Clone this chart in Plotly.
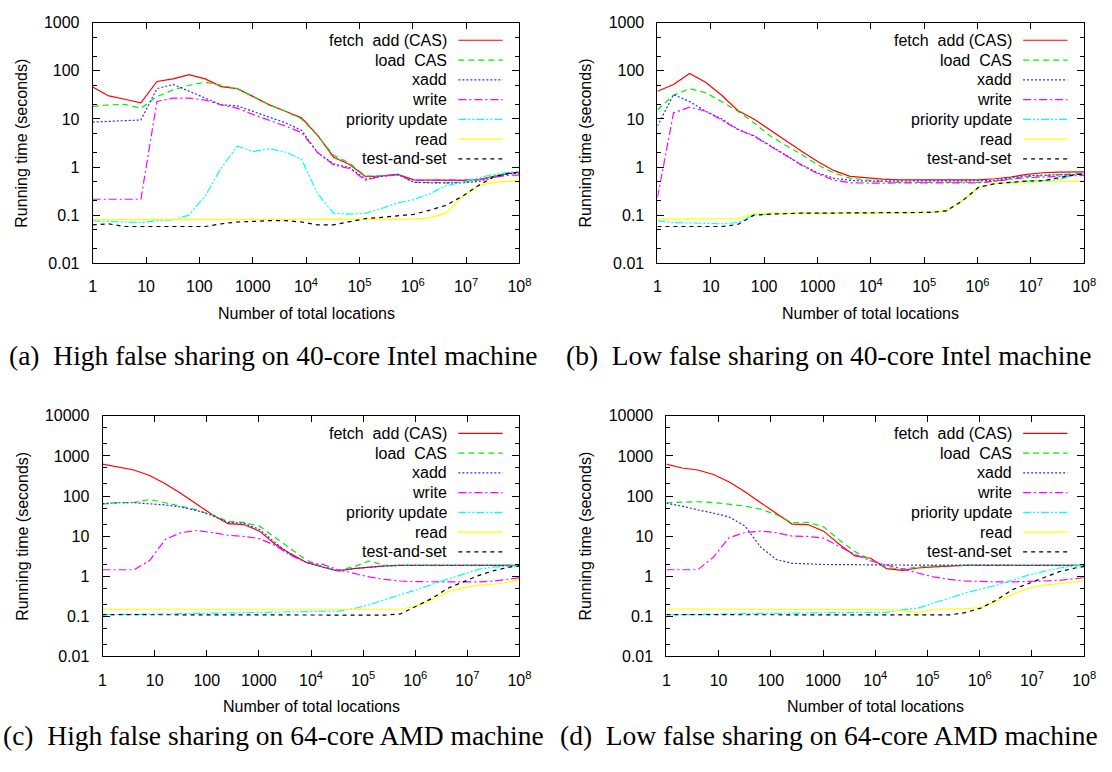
import plotly.graph_objects as go

# ---------------- data ----------------
X_LOCATIONS = [1, 2, 4, 8, 16, 32, 64, 128, 256, 512, 1024, 2048, 4096, 8192,
               16384, 32768, 65536, 131072, 262144, 524288, 1048576, 2097152,
               4194304, 8388608, 16777216, 33554432, 67108864, 134217728]

SERIES_NAMES = ["fetch  add (CAS)", "load  CAS", "xadd", "write",
                "priority update", "read", "test-and-set"]

# (a) High false sharing, 40-core Intel
A_FETCH_ADD = [46, 30, 25.6, 21.6, 60, 68, 83, 68, 47, 42.5, 29, 19.6, 14.4, 10.5,
               4.6, 1.6, 1.13, 0.63, 0.65, 0.70, 0.54, 0.54, 0.54, 0.53, 0.55, 0.65, 0.75, 0.8]
A_LOAD_CAS = [18, 19.6, 20, 16.7, 29, 40, 50, 58, 50, 42.5, 29, 19.6, 14.4, 10,
              4.5, 1.75, 1.2, 0.65, 0.66, 0.7, 0.48, 0.47, 0.47, 0.48, 0.54, 0.65, 0.75, 0.8]
A_XADD = [8.6, 8.9, 9.3, 9.5, 42.5, 52, 37.6, 27, 19.6, 18.7, 14.4, 10.9, 8.3, 5.8,
          2.0, 1.16, 0.97, 0.56, 0.64, 0.7, 0.48, 0.47, 0.47, 0.47, 0.5, 0.6, 0.73, 0.75]
A_WRITE = [0.214, 0.214, 0.214, 0.214, 23, 27, 27, 24.6, 19.6, 16.7, 12.3, 9.4, 7.1, 5.2,
           2.0, 1.1, 0.93, 0.53, 0.65, 0.68, 0.53, 0.53, 0.53, 0.53, 0.54, 0.62, 0.68, 0.68]
A_PRIORITY = [0.076, 0.074, 0.073, 0.07, 0.077, 0.08, 0.1, 0.25, 0.95, 2.7, 2.1, 2.4, 2.05, 1.45,
              0.28, 0.11, 0.105, 0.11, 0.138, 0.18, 0.21, 0.28, 0.41, 0.48, 0.6, 0.7, 0.78, 0.8]
A_READ = [0.081, 0.081, 0.081, 0.081, 0.081, 0.081, 0.081, 0.082, 0.083, 0.082, 0.081, 0.081, 0.081, 0.081,
          0.081, 0.081, 0.081, 0.081, 0.081, 0.082, 0.084, 0.088, 0.11, 0.24, 0.41, 0.48, 0.51, 0.52]
A_TAS = [0.063, 0.066, 0.058, 0.058, 0.058, 0.058, 0.058, 0.058, 0.066, 0.072, 0.074, 0.077, 0.077, 0.072,
         0.063, 0.063, 0.073, 0.085, 0.09, 0.096, 0.104, 0.127, 0.16, 0.245, 0.41, 0.63, 0.75, 0.8]

# (b) Low false sharing, 40-core Intel
B_FETCH_ADD = [37.6, 52, 88, 58, 31, 15, 10, 5.9, 3.55, 2.1, 1.29, 0.84, 0.64, 0.59,
               0.56, 0.54, 0.54, 0.54, 0.54, 0.54, 0.54, 0.57, 0.62, 0.7, 0.76, 0.78, 0.79, 0.8]
B_LOAD_CAS = [15.5, 31, 42.5, 35, 23, 14.5, 8.3, 4.5, 2.8, 1.8, 1.1, 0.75, 0.58, 0.53,
              0.5, 0.48, 0.48, 0.48, 0.48, 0.48, 0.48, 0.51, 0.57, 0.63, 0.66, 0.68, 0.7, 0.75]
B_XADD = [7.1, 32, 23, 14.4, 10, 6.1, 4.5, 2.8, 1.8, 1.1, 0.75, 0.58, 0.53, 0.51,
          0.51, 0.51, 0.51, 0.51, 0.51, 0.51, 0.51, 0.52, 0.6, 0.66, 0.68, 0.68, 0.7, 0.73]
B_WRITE = [0.23, 13.3, 17.6, 14.4, 9.5, 6.0, 4.4, 2.75, 1.75, 1.08, 0.72, 0.53, 0.47, 0.46,
           0.46, 0.47, 0.47, 0.47, 0.47, 0.47, 0.47, 0.5, 0.56, 0.6, 0.62, 0.66, 0.68, 0.68]
B_PRIORITY = [0.076, 0.07, 0.069, 0.068, 0.066, 0.07, 0.1, 0.105, 0.108, 0.11, 0.11, 0.11, 0.11, 0.11,
              0.11, 0.11, 0.112, 0.114, 0.123, 0.2, 0.38, 0.45, 0.48, 0.51, 0.52, 0.55, 0.69, 0.75]
B_READ = [0.083, 0.083, 0.084, 0.083, 0.083, 0.085, 0.105, 0.11, 0.11, 0.11, 0.11, 0.112, 0.112, 0.112,
          0.112, 0.112, 0.113, 0.115, 0.123, 0.2, 0.38, 0.45, 0.46, 0.47, 0.5, 0.5, 0.51, 0.51]
B_TAS = [0.058, 0.058, 0.058, 0.058, 0.058, 0.064, 0.1, 0.105, 0.108, 0.11, 0.11, 0.11, 0.11, 0.11,
         0.11, 0.11, 0.112, 0.114, 0.123, 0.2, 0.38, 0.45, 0.48, 0.51, 0.52, 0.6, 0.69, 0.75]

# (c) High false sharing, 64-core AMD
C_FETCH_ADD = [625, 520, 446, 324, 203, 116, 63, 34, 20.4, 19.4, 13.3, 6.3, 3.6, 2.2,
               1.7, 1.35, 1.55, 1.7, 1.8, 1.86, 1.86, 1.86, 1.86, 1.86, 1.86, 1.86, 1.86, 1.86]
C_LOAD_CAS = [63, 68, 69, 82, 68, 56, 45, 34, 23, 22, 17.7, 9.2, 4.8, 2.5,
              1.75, 1.4, 1.7, 2.4, 1.86, 1.86, 1.86, 1.86, 1.86, 1.86, 1.86, 1.86, 1.86, 1.86]
C_XADD = [65, 68, 68, 65, 60, 53, 43.6, 32.6, 22, 21, 14.7, 6.9, 3.4, 2.2,
          1.7, 1.35, 1.55, 1.7, 1.8, 1.86, 1.86, 1.86, 1.86, 1.86, 1.86, 1.86, 1.86, 1.86]
C_WRITE = [1.45, 1.45, 1.45, 2.45, 8.3, 12.2, 13.8, 12.2, 10.5, 9.8, 8.7, 5.8, 3.3, 2.2,
           2.0, 1.46, 1.16, 0.96, 0.83, 0.76, 0.73, 0.72, 0.71, 0.71, 0.72, 0.76, 0.85, 0.96]
C_PRIORITY = [0.11, 0.11, 0.11, 0.112, 0.114, 0.116, 0.118, 0.12, 0.122, 0.124, 0.126, 0.128, 0.13, 0.13,
              0.13, 0.135, 0.155, 0.195, 0.26, 0.34, 0.46, 0.63, 0.85, 1.14, 1.5, 1.7, 1.8, 1.86]
C_READ = [0.15, 0.15, 0.15, 0.149, 0.149, 0.148, 0.148, 0.148, 0.148, 0.148, 0.147, 0.147, 0.147, 0.147,
          0.147, 0.147, 0.147, 0.147, 0.147, 0.15, 0.18, 0.26, 0.41, 0.52, 0.6, 0.64, 0.73, 0.85]
C_TAS = [0.11, 0.11, 0.11, 0.108, 0.108, 0.107, 0.107, 0.107, 0.106, 0.106, 0.106, 0.106, 0.106, 0.106,
         0.106, 0.106, 0.106, 0.107, 0.107, 0.115, 0.18, 0.28, 0.5, 0.73, 1.05, 1.4, 1.7, 1.86]

# (d) Low false sharing, 64-core AMD
D_FETCH_ADD = [625, 500, 446, 343, 223, 127, 68, 36, 20, 19.4, 13.3, 6.3, 3.2, 2.8,
               1.55, 1.4, 1.6, 1.7, 1.8, 1.86, 1.86, 1.86, 1.86, 1.86, 1.86, 1.86, 1.86, 1.86]
D_LOAD_CAS = [68, 71, 72, 69, 63, 56, 47, 34, 21.5, 22, 17, 8, 4.1, 2.6,
              1.65, 1.5, 1.7, 1.8, 1.86, 1.86, 1.86, 1.86, 1.86, 1.86, 1.86, 1.86, 1.86, 1.86]
D_XADD = [66, 56, 45, 37.6, 30, 17.8, 5.3, 2.6, 2.1, 2.0, 1.96, 1.95, 1.92, 1.9,
          1.9, 1.9, 1.9, 1.9, 1.9, 1.9, 1.9, 1.9, 1.9, 1.9, 1.9, 1.9, 1.9, 1.86]
D_WRITE = [1.45, 1.45, 1.45, 3.0, 9.2, 12.2, 13.3, 12.2, 10, 9.8, 8.9, 5.5, 3.5, 2.4,
           1.9, 1.46, 1.2, 0.96, 0.83, 0.76, 0.73, 0.72, 0.72, 0.73, 0.76, 0.79, 0.87, 0.96]
D_PRIORITY = [0.11, 0.11, 0.11, 0.112, 0.114, 0.116, 0.118, 0.12, 0.12, 0.122, 0.123, 0.124, 0.125, 0.126,
              0.126, 0.147, 0.16, 0.215, 0.285, 0.38, 0.48, 0.6, 0.79, 1.06, 1.32, 1.6, 1.8, 1.86]
D_READ = [0.152, 0.152, 0.152, 0.151, 0.15, 0.15, 0.149, 0.148, 0.148, 0.148, 0.147, 0.147, 0.147, 0.147,
          0.147, 0.14, 0.123, 0.15, 0.15, 0.155, 0.165, 0.235, 0.35, 0.5, 0.6, 0.65, 0.73, 0.8]
D_TAS = [0.11, 0.11, 0.11, 0.108, 0.108, 0.108, 0.108, 0.108, 0.108, 0.108, 0.108, 0.108, 0.108, 0.108,
         0.108, 0.108, 0.108, 0.108, 0.108, 0.123, 0.16, 0.255, 0.46, 0.65, 0.91, 1.3, 1.6, 1.86]

X_TICK_VALUES = [1, 10, 100, 1000, 1e4, 1e5, 1e6, 1e7, 1e8]
X_TICK_LABELS = ["1", "10", "100", "1000", "10<sup>4</sup>", "10<sup>5</sup>",
                 "10<sup>6</sup>", "10<sup>7</sup>", "10<sup>8</sup>"]
Y_TICK_VALUES = [0.01, 0.1, 1, 10, 100, 1000, 10000]
Y_TICK_LABELS = ["0.01", "0.1", "1", "10", "100", "1000", "10000"]
Y_MINOR_VALUES = [0.02, 0.05, 0.2, 0.5, 2, 5, 20, 50, 200, 500, 2000, 5000]

CAPTIONS = ["(a)  High false sharing on 40-core Intel machine",
            "(b)  Low false sharing on 40-core Intel machine",
            "(c)  High false sharing on 64-core AMD machine",
            "(d)  Low false sharing on 64-core AMD machine"]
X_TITLE = "Number of total locations"
Y_TITLE = "Running time (seconds)"

PANELS = [
    [A_FETCH_ADD, A_LOAD_CAS, A_XADD, A_WRITE, A_PRIORITY, A_READ, A_TAS],
    [B_FETCH_ADD, B_LOAD_CAS, B_XADD, B_WRITE, B_PRIORITY, B_READ, B_TAS],
    [C_FETCH_ADD, C_LOAD_CAS, C_XADD, C_WRITE, C_PRIORITY, C_READ, C_TAS],
    [D_FETCH_ADD, D_LOAD_CAS, D_XADD, D_WRITE, D_PRIORITY, D_READ, D_TAS],
]

# ---------------- styles / layout ----------------
W, H = 1112, 772
COLORS = ["#ff0000", "#00ee00", "#2a2aff", "#ff00ff", "#00ffff", "#ffff00", "#000000"]
DASHES = ["solid", "6px,4px", "2px,2px", "8px,3px,2px,3px",
          "8px,2px,2px,2px,2px,2px", "solid", "4px,4px"]
LINE_W = 1.2

# panel boxes in pixels: (left, right, top, bottom)
BOXES = [(90, 523, 15, 261), (663, 1096, 15, 261),
         (100, 523, 417, 663), (672, 1096, 417, 663)]
Y_RANGES = [[-2, 3], [-2, 3], [-2, 4], [-2, 4]]
YTITLE_X = [18, 590, 18, 590]
CAPTION_POS = [(273, 355), (837, 355), (273, 744), (837, 744)]

TICK_SIZE = 16
TITLE_SIZE = 16
LEGEND_SIZE = 16
CAPTION_SIZE = 27.5


def px(x):
    return x / W


def py(y):
    return 1 - y / H


fig = go.Figure()
annotations = []
shapes = []
SANS = "Liberation Sans, Arial, sans-serif"
SERIF = "Liberation Serif, Times New Roman, serif"

for i, (series_list, box, yr, cap) in enumerate(zip(PANELS, BOXES, Y_RANGES, CAPTIONS)):
    n = i + 1
    xa = "xaxis" if n == 1 else f"xaxis{n}"
    ya = "yaxis" if n == 1 else f"yaxis{n}"
    xr = "x" if n == 1 else f"x{n}"
    yrf = "y" if n == 1 else f"y{n}"
    l, r, t, b = box
    for name, vals, col, dash in zip(SERIES_NAMES, series_list, COLORS, DASHES):
        fig.add_trace(go.Scatter(x=X_LOCATIONS, y=vals, mode="lines", name=name,
                                 xaxis=xr, yaxis=yrf, showlegend=False,
                                 line=dict(color=col, width=LINE_W, dash=dash)))
    fig.update_layout(**{
        xa: dict(type="log", range=[0, 8], domain=[px(l), px(r)], anchor=yrf,
                 tickvals=X_TICK_VALUES, ticktext=X_TICK_LABELS,
                 ticks="inside", ticklen=6, tickcolor="black", tickwidth=1,
                 ticklabelstandoff=9,
                 showline=True, linecolor="black", linewidth=1, mirror="allticks",
                 showgrid=False, zeroline=False,
                 tickfont=dict(family=SANS, size=TICK_SIZE, color="black")),
        ya: dict(type="log", range=yr, domain=[py(b), py(t)], anchor=xr,
                 tickvals=Y_TICK_VALUES, ticktext=Y_TICK_LABELS,
                 ticks="inside", ticklen=7, tickcolor="black", tickwidth=1,
                 ticklabelstandoff=9,
                 showline=True, linecolor="black", linewidth=1, mirror="allticks",
                 showgrid=False, zeroline=False,
                 minor=dict(tickvals=Y_MINOR_VALUES, ticks="inside", ticklen=4,
                            tickcolor="black", showgrid=False),
                 tickfont=dict(family=SANS, size=TICK_SIZE, color="black")),
    })
    # axis titles
    annotations.append(dict(text=Y_TITLE, x=px(YTITLE_X[i]), y=py((t + b) / 2),
                            xref="paper", yref="paper", textangle=-90,
                            showarrow=False, xanchor="center", yanchor="middle",
                            font=dict(family=SANS, size=TITLE_SIZE, color="black")))
    annotations.append(dict(text=X_TITLE, x=px((l + r) / 2), y=py(b + 51),
                            xref="paper", yref="paper", showarrow=False,
                            xanchor="center", yanchor="middle",
                            font=dict(family=SANS, size=TITLE_SIZE, color="black")))
    # caption
    cx, cy = CAPTION_POS[i]
    annotations.append(dict(text=cap, x=px(cx), y=py(cy),
                            xref="paper", yref="paper", showarrow=False,
                            xanchor="center", yanchor="middle",
                            font=dict(family=SERIF, size=CAPTION_SIZE, color="black")))
    # legend (gnuplot style: right-aligned text, sample line on right)
    text_right = r - 71
    s0, s1 = r - 62, r - 17
    for j, (name, col, dash) in enumerate(zip(SERIES_NAMES, COLORS, DASHES)):
        yy = t + 18 + j * 20.2
        annotations.append(dict(text=name, x=px(text_right), y=py(yy),
                                xref="paper", yref="paper", showarrow=False,
                                xanchor="right", yanchor="middle",
                                font=dict(family=SANS, size=LEGEND_SIZE, color="black")))
        shapes.append(dict(type="line", xref="paper", yref="paper",
                           x0=px(s0), x1=px(s1), y0=py(yy), y1=py(yy),
                           line=dict(color=col, width=LINE_W, dash=dash)))

fig.update_layout(width=W, height=H, autosize=False,
                  margin=dict(l=0, r=0, t=0, b=0),
                  plot_bgcolor="white", paper_bgcolor="white",
                  annotations=annotations, shapes=shapes, showlegend=False)

fig.write_html("out.html")
